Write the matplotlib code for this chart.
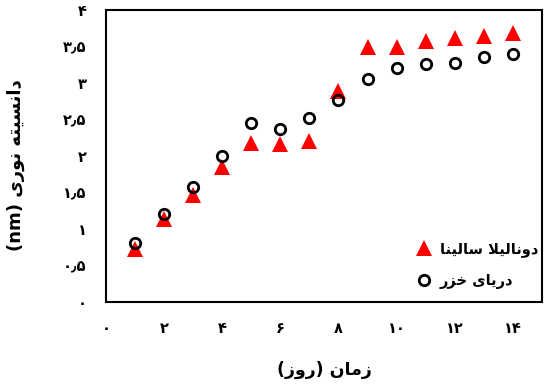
import re
import matplotlib
matplotlib.use('Agg')
import matplotlib.pyplot as plt

# data
days = [1, 2, 3, 4, 5, 6, 7, 8, 9, 10, 11, 12, 13, 14]
dunaliella = [0.73, 1.14, 1.47, 1.85, 2.18, 2.16, 2.21, 2.89, 3.49, 3.49, 3.57, 3.62, 3.64, 3.69]
caspian = [0.81, 1.20, 1.57, 2.00, 2.45, 2.37, 2.52, 2.76, 3.05, 3.20, 3.26, 3.27, 3.35, 3.40]
x_ticks = [0, 2, 4, 6, 8, 10, 12, 14]
y_ticks = [0, 0.5, 1, 1.5, 2, 2.5, 3, 3.5, 4]

label_dun = 'دونالیلا سالینا'
label_cas = 'دریای خزر'
x_title = 'زمان (روز)'
y_title = 'دانسیته نوری (nm)'

# minimal arabic shaping (matplotlib has no shaping / bidi)
FORMS = {  # isol, fina, init, medi
    'ا': ('\uFE8D', '\uFE8E', None, None),
    'د': ('\uFEA9', '\uFEAA', None, None),
    'ر': ('\uFEAD', '\uFEAE', None, None),
    'ز': ('\uFEAF', '\uFEB0', None, None),
    'و': ('\uFEED', '\uFEEE', None, None),
    'ن': ('\uFEE5', '\uFEE6', '\uFEE7', '\uFEE8'),
    'س': ('\uFEB1', '\uFEB2', '\uFEB3', '\uFEB4'),
    'ت': ('\uFE95', '\uFE96', '\uFE97', '\uFE98'),
    'ه': ('\uFEE9', '\uFEEA', '\uFEEB', '\uFEEC'),
    'م': ('\uFEE1', '\uFEE2', '\uFEE3', '\uFEE4'),
    'خ': ('\uFEA5', '\uFEA6', '\uFEA7', '\uFEA8'),
    'ل': ('\uFEDD', '\uFEDE', '\uFEDF', '\uFEE0'),
    'ی': ('\uFBFC', '\uFBFD', '\uFBFE', '\uFBFF'),
}


def shape(text):
    chars = list(text)
    out = []
    i = 0
    while i < len(chars):
        c = chars[i]
        if c not in FORMS:
            out.append(c)
            i += 1
            continue
        prev = chars[i - 1] if i > 0 else ''
        prev_j = prev in FORMS and FORMS[prev][2] is not None
        if c == 'ل' and i + 1 < len(chars) and chars[i + 1] == 'ا':
            out.append('\uFEFC' if prev_j else '\uFEFB')
            i += 2
            continue
        nxt = chars[i + 1] if i + 1 < len(chars) else ''
        next_j = FORMS[c][2] is not None and nxt in FORMS
        f = FORMS[c]
        if prev_j and next_j:
            out.append(f[3])
        elif prev_j:
            out.append(f[1])
        elif next_j:
            out.append(f[2])
        else:
            out.append(f[0])
        i += 1
    vis = ''.join(out)[::-1]
    vis = vis.translate(str.maketrans('()', ')('))
    vis = re.sub(r'[A-Za-z0-9]+', lambda m: m.group(0)[::-1], vis)
    return vis


def fa_num(v):
    return f'{v:g}'.translate(str.maketrans('0123456789.', '۰۱۲۳۴۵۶۷۸۹٫'))


plt.rcParams['font.family'] = ['DejaVu Sans']

fig = plt.figure(figsize=(5.44, 3.85), dpi=100)
ax = fig.add_axes([0.195, 0.216, 0.801, 0.758])

ax.plot(days, dunaliella, linestyle='none', marker='^', markersize=11,
        color='#ff0000', markeredgewidth=0, label=shape(label_dun))
ax.plot(days, caspian, linestyle='none', marker='o', markersize=7.5,
        markerfacecolor='none', markeredgecolor='black', markeredgewidth=2,
        label=shape(label_cas))

ax.set_xlim(0, 15)
ax.set_ylim(0, 4)
ax.set_xticks(x_ticks)
ax.set_xticklabels([fa_num(v) for v in x_ticks], fontweight='bold', fontsize=10.5)
ax.set_yticks(y_ticks)
ax.set_yticklabels([fa_num(v) for v in y_ticks], fontweight='bold', fontsize=10.5)
ax.tick_params(axis='x', length=0, pad=14)
ax.tick_params(axis='y', length=0, pad=14)
for s in ax.spines.values():
    s.set_linewidth(1.5)
    s.set_color('black')

ax.set_xlabel(shape(x_title), fontsize=12.5, fontweight='bold', labelpad=18)
ax.set_ylabel(shape(y_title), fontsize=13, fontweight='bold', labelpad=16)
ax.yaxis.set_label_coords(-0.185, 0.47)

ax.legend(loc='lower right', bbox_to_anchor=(1.012, 0.015), frameon=False,
          prop={'weight': 'bold', 'size': 10.5},
          handlelength=1.0, handletextpad=0.6, labelspacing=1.1, borderaxespad=0.2)

fig.savefig('out.png', dpi=100)
